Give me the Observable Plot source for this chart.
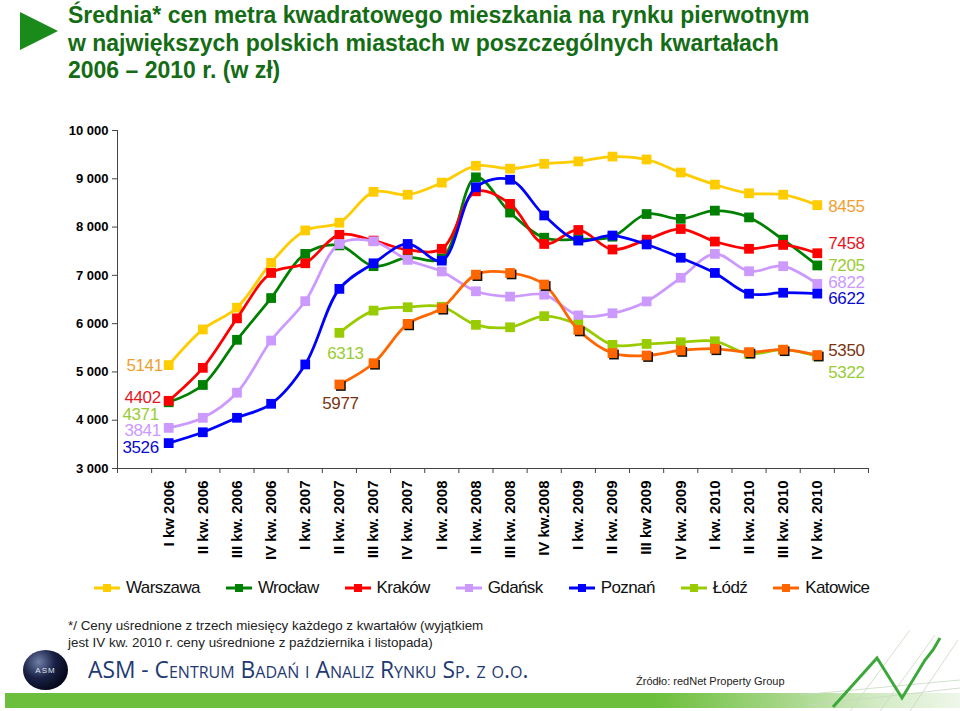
<!DOCTYPE html>
<html><head><meta charset="utf-8">
<script src="https://cdn.jsdelivr.net/npm/d3@7"></script>
<script src="https://cdn.jsdelivr.net/npm/@observablehq/plot@0.6"></script>
<style>
body{margin:0;background:#fff;font-family:"Liberation Sans",Arial,sans-serif;}
#page{position:relative;width:960px;height:711px;overflow:hidden;background:#fff;}
#arrow{position:absolute;left:20px;top:12px;width:0;height:0;border-top:19px solid transparent;border-bottom:19px solid transparent;border-left:38px solid #1a8a1a;}
#title{position:absolute;left:68px;top:2px;font:bold 23px/27.5px "Liberation Sans",Arial,sans-serif;color:#146c14;margin:0;}
#chart{position:absolute;left:0;top:110px;}
#legend{position:absolute;left:94px;top:578px;display:flex;align-items:center;gap:26px;font-size:17px;color:#111;letter-spacing:-0.6px;}
#legend .item{display:flex;align-items:center;gap:6px;}
#note{position:absolute;left:68px;top:618px;font-size:13.4px;line-height:16.5px;color:#222;}
#logo{position:absolute;left:23px;top:650px;width:45px;height:40px;border-radius:50%;background:radial-gradient(circle at 35% 30%,#6f7fa8 0%,#1a2145 40%,#05081a 75%);color:#dfe4f0;font-size:8px;display:flex;align-items:center;justify-content:center;letter-spacing:1px;}
#asm{position:absolute;left:88px;top:654px;font-family:"Open Sans",sans-serif;font-size:22.8px;font-variant:small-caps;color:#1f3a72;}
#src{position:absolute;left:636px;top:675px;font-size:11px;color:#222;}
#band{position:absolute;left:5px;right:0;top:693px;height:15px;background:linear-gradient(to right,#6cbf3c 0%,#6cbf3c 68%,#9ed37e 80%,#d6ecc8 92%,#eef7ea 100%);}
#deco{position:absolute;left:800px;top:610px;}
</style></head>
<body><div id="page">
<div id="arrow"></div>
<div id="title">Średnia* cen metra kwadratowego mieszkania na rynku pierwotnym<br>w największych polskich miastach w poszczególnych kwartałach<br>2006 – 2010 r. (w zł)</div>
<div id="chart"></div>
<div id="legend"></div>
<div id="note">*/ Ceny uśrednione z trzech miesięcy każdego z kwartałów (wyjątkiem<br>jest IV kw. 2010 r. ceny uśrednione z października i listopada)</div>
<div id="logo">ASM</div>
<div id="asm">ASM - Centrum Badań i Analiz Rynku Sp. z o.o.</div>
<div id="band"></div>
<svg id="deco" width="160" height="101">
  <g stroke="#c8d8c0" stroke-width="0.8" fill="none">
    <line x1="0" y1="85" x2="160" y2="70"/><line x1="10" y1="95" x2="160" y2="78"/>
    <line x1="50" y1="101" x2="110" y2="20"/><line x1="80" y1="101" x2="135" y2="25"/><line x1="110" y1="101" x2="158" y2="30"/>
  </g>
  <polyline points="33,97 77,48 102,88 125,50 133,40 140,28" fill="none" stroke="#3da83a" stroke-width="3"/>
</svg>
<div id="src">Źródło: redNet Property Group</div>
</div>
<script>
const quarters = ["I kw 2006","II kw. 2006","III kw. 2006","IV kw. 2006","I kw. 2007","II kw. 2007","III kw. 2007","IV kw. 2007","I kw. 2008","II kw. 2008","III kw. 2008","IV kw.2008","I kw. 2009","II kw. 2009","III kw 2009","IV kw. 2009","I kw. 2010","II kw. 2010","III kw. 2010","IV kw. 2010"];
const cities = ["Warszawa","Wrocław","Kraków","Gdańsk","Poznań","Łódź","Katowice"];
const warszawa = [5141,5880,6330,7260,7930,8090,8730,8670,8920,9270,9210,9310,9360,9460,9400,9130,8880,8700,8670,8455];
const wroclaw  = [4371,4730,5665,6530,7445,7620,7190,7370,7350,9030,8300,7780,7750,7800,8270,8170,8340,8200,7740,7205];
const krakow   = [4402,5085,6110,7050,7250,7840,7720,7530,7550,8740,8480,7650,7940,7535,7740,7960,7700,7550,7630,7458];
const gdansk   = [3841,4050,4570,5650,6465,7650,7705,7320,7080,6670,6560,6600,6170,6215,6460,6950,7445,7085,7190,6822];
const poznan   = [3526,3750,4050,4340,5155,6720,7250,7650,7305,8825,8980,8240,7720,7825,7640,7365,7050,6620,6640,6622];
const lodz     = [null,null,null,null,null,5810,6270,6340,6350,5975,5925,6155,5980,5560,5580,5615,5635,5375,5460,5322];
const katowice = [null,null,null,null,null,4740,5180,5995,6320,7015,7050,6810,5870,5390,5340,5445,5480,5410,5460,5350];
const yTicks = [3000,4000,5000,6000,7000,8000,9000,10000];
const firstLabelText = {"Łódź":"6313","Katowice":"5977"};

const seriesValues = [warszawa,wroclaw,krakow,gdansk,poznan,lodz,katowice];
const colors = ["#FFCC00","#008000","#FF0000","#CC99FF","#0000FF","#99CC00","#FF6600"];
const labelColors = ["#EFA030","#99CC33","#E4151F","#CC99FF","#0A0ACD","#99CC33","#7B3410"];

const rows = cities.flatMap((c,k)=>seriesValues[k].map((v,i)=>({city:c,i,v})).filter(d=>d.v!=null));

// label layout (offsets in px)
const labelLayout = [
  {city:"Warszawa",pos:"first",anchor:"end",dx:-6,dy:0},
  {city:"Kraków",pos:"first",anchor:"end",dx:-8,dy:-3},
  {city:"Wrocław",pos:"first",anchor:"end",dx:-10,dy:12},
  {city:"Gdańsk",pos:"first",anchor:"end",dx:-8,dy:3},
  {city:"Poznań",pos:"first",anchor:"end",dx:-10,dy:4},
  {city:"Łódź",pos:"first",anchor:"middle",dx:6,dy:21},
  {city:"Katowice",pos:"first",anchor:"middle",dx:1,dy:19},
  {city:"Warszawa",pos:"last",anchor:"start",dx:11,dy:1},
  {city:"Kraków",pos:"last",anchor:"start",dx:11,dy:-10},
  {city:"Wrocław",pos:"last",anchor:"start",dx:11,dy:0},
  {city:"Gdańsk",pos:"last",anchor:"start",dx:11,dy:-1},
  {city:"Poznań",pos:"last",anchor:"start",dx:11,dy:5},
  {city:"Katowice",pos:"last",anchor:"start",dx:11,dy:-4},
  {city:"Łódź",pos:"last",anchor:"start",dx:11,dy:16}
];

const marks = [];
marks.push(Plot.axisY({ticks:yTicks,tickFormat:d=>d3.format(",")(d).replace(","," "),tickSize:5,tickPadding:4,fontWeight:"bold",fontSize:13,stroke:"#444",label:null}));
marks.push(Plot.axisX({ticks:d3.range(-1.5,21,1),tickFormat:()=>"",tickSize:5,stroke:"#444",label:null}));
marks.push(Plot.axisX({ticks:d3.range(20),tickFormat:i=>quarters[i],tickSize:0,tickPadding:12,tickRotate:-90,fontWeight:"bold",fontSize:15,label:null}));
marks.push(Plot.ruleX([-1.5],{stroke:"#444"}));
marks.push(Plot.ruleY([3000],{stroke:"#444"}));
cities.forEach((c,k)=>{
  const data = rows.filter(d=>d.city===c);
  marks.push(Plot.line(data,{x:"i",y:"v",stroke:colors[k],strokeWidth:2.75,curve:"catmull-rom"}));
  if (c==="Katowice") marks.push(Plot.dot(data,{x:"i",y:"v",symbol:"square",r:5.5,fill:"#111",dx:1.5,dy:1.5}));
  marks.push(Plot.dot(data,{x:"i",y:"v",symbol:"square",r:5.5,fill:colors[k]}));
});
labelLayout.forEach(L=>{
  const k = cities.indexOf(L.city);
  const pts = rows.filter(d=>d.city===L.city);
  const p = L.pos==="first" ? pts[0] : pts[pts.length-1];
  const txt = (L.pos==="first" && firstLabelText[L.city]) ? firstLabelText[L.city] : String(p.v);
  marks.push(Plot.text([p],{x:"i",y:"v",text:()=>txt,fill:labelColors[k],fontSize:17,textAnchor:L.anchor,dx:L.dx,dy:L.dy}));
});

const chart = Plot.plot({
  width:960,height:458,
  marginLeft:117,marginRight:92,marginTop:20,marginBottom:100,
  x:{type:"linear",domain:[-1.5,20.5],axis:null},
  y:{domain:[3000,10000],axis:null},
  style:{fontFamily:"'Liberation Sans',Arial,sans-serif",color:"#000",background:"transparent"},
  marks
});
document.getElementById("chart").appendChild(chart);
d3.select(chart).selectAll('g[aria-label="text"] text').style("letter-spacing","-0.4px");

const legend = document.getElementById("legend");
cities.forEach((c,k)=>{
  const it = document.createElement("div"); it.className="item";
  it.innerHTML = `<svg width="26" height="12"><line x1="0" y1="6" x2="26" y2="6" stroke="${colors[k]}" stroke-width="3"/><rect x="9" y="2" width="8" height="8" fill="${colors[k]}"/></svg><span>${c}</span>`;
  legend.appendChild(it);
});
</script>
</body></html>
